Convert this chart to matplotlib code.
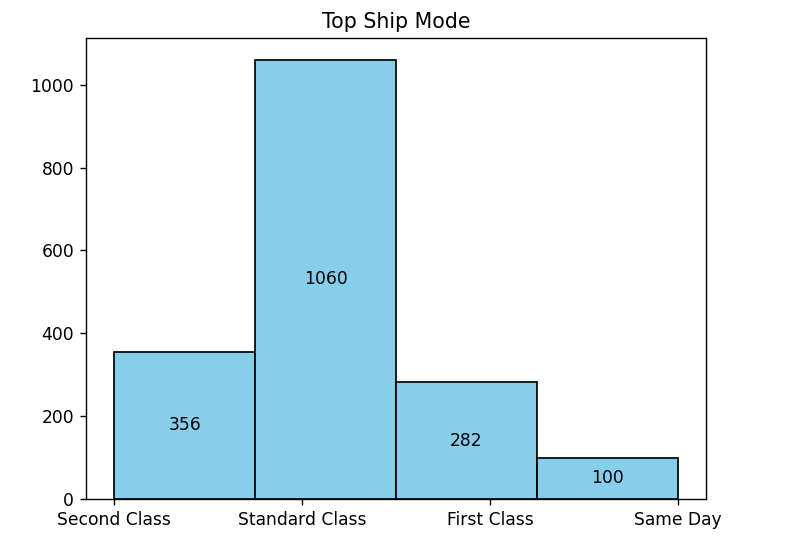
import numpy as np
import matplotlib
matplotlib.use("Agg")
import matplotlib.pyplot as plt

# datos
categorias = ["Second Class", "Standard Class", "First Class", "Same Day"]
conteos = [356, 1060, 282, 100]

posiciones = np.arange(len(categorias))

fig = plt.figure(figsize=(800 / 123, 559 / 123), dpi=123)
ax = fig.add_axes([0.1075, 0.1073, 0.775, 0.8247])

n, bins, patches = ax.hist(posiciones, bins=4, weights=conteos,
                           color="skyblue", edgecolor="black")

ax.bar_label(patches, labels=[str(c) for c in conteos], label_type="center")

ax.set_xticks(posiciones)
ax.set_xticklabels(categorias)
ax.set_title("Top Ship Mode")

fig.savefig("out.png", dpi=123)
